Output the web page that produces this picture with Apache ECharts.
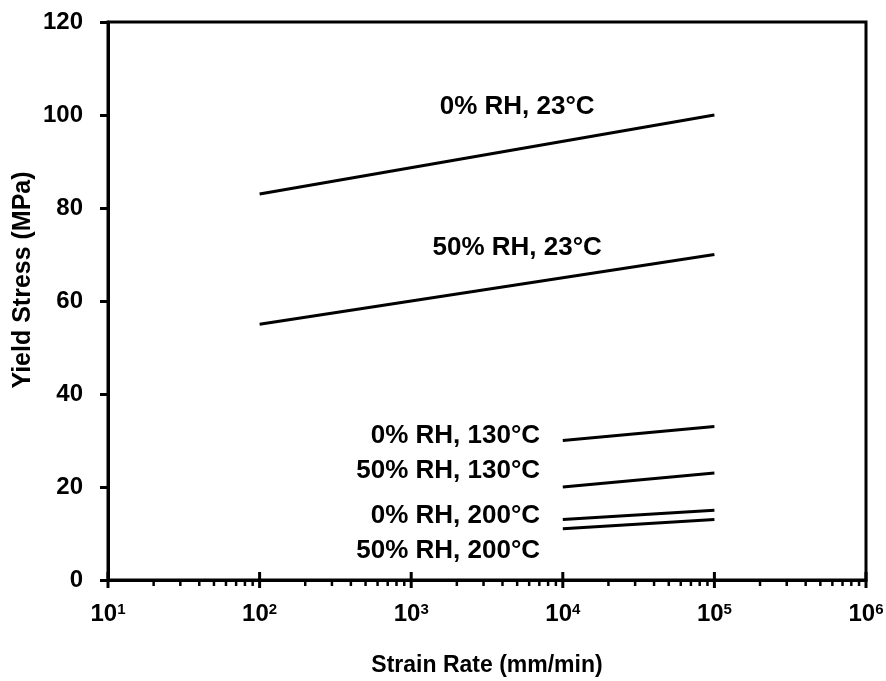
<!DOCTYPE html>
<html>
<head>
<meta charset="utf-8">
<script src="https://cdn.jsdelivr.net/npm/echarts@6/dist/echarts.min.js"></script>
<style>html,body{margin:0;padding:0;background:#fff;}#chart{width:886px;height:681px;}</style>
</head>
<body>
<div id="chart"></div>
<script>
// ---- data ----
const seriesNames = ['0% RH, 23°C', '50% RH, 23°C', '0% RH, 130°C', '50% RH, 130°C', '0% RH, 200°C', '50% RH, 200°C'];
const strainRateStart = [1e2, 1e2, 1e4, 1e4, 1e4, 1e4];
const strainRateEnd   = [1e5, 1e5, 1e5, 1e5, 1e5, 1e5];
const yieldStart = [83, 55, 30, 20, 13, 11];
const yieldEnd   = [100, 70, 33, 23, 15, 13];
const xTickExponents = [1, 2, 3, 4, 5, 6];
const yTicks = [0, 20, 40, 60, 80, 100, 120];

// annotation anchors (data space) for the curve labels
const labelAnchors = [
  {x: 5000, y: 101.8, align: 'center'},
  {x: 5000, y: 71.4, align: 'center'},
  {x: 7080, y: 31.1, align: 'right'},
  {x: 7080, y: 23.4, align: 'right'},
  {x: 7080, y: 13.9, align: 'right'},
  {x: 7080, y: 6.2, align: 'right'}
];

const FONT = '"Liberation Sans", Arial, sans-serif';
const majorTicks = xTickExponents.map(e => Math.pow(10, e));
const minorTicks = [];
for (let i = 0; i < xTickExponents.length - 1; i++) {
  for (let m = 2; m <= 9; m++) minorTicks.push(m * Math.pow(10, xTickExponents[i]));
}

const chart = echarts.init(document.getElementById('chart'), null, {renderer: 'canvas'});

const lineSeries = seriesNames.map((name, i) => ({
  name: name,
  type: 'line',
  data: [[strainRateStart[i], yieldStart[i]], [strainRateEnd[i], yieldEnd[i]]],
  showSymbol: false,
  symbol: 'none',
  lineStyle: {color: '#000', width: 3},
  silent: true,
  z: 3,
  markPoint: {
    symbol: 'circle',
    symbolSize: 0,
    silent: true,
    data: [{
      coord: [labelAnchors[i].x, labelAnchors[i].y],
      label: {
        show: true,
        formatter: name,
        position: 'inside',
        align: labelAnchors[i].align,
        verticalAlign: 'middle',
        color: '#000',
        fontFamily: FONT,
        fontWeight: 'bold',
        fontSize: 26
      }
    }]
  }
}));

const tickSeries = {
  type: 'custom',
  silent: true,
  clip: false,
  z: 5,
  data: majorTicks.map(v => [v, 1]).concat(minorTicks.map(v => [v, 0])),
  renderItem: function (params, api) {
    const p = api.coord([api.value(0), 0]);
    const major = api.value(1) === 1;
    return {
      type: 'line',
      shape: major ? {x1: p[0], y1: p[1] - 8, x2: p[0], y2: p[1] + 8}
                   : {x1: p[0], y1: p[1], x2: p[0], y2: p[1] + 6},
      style: {stroke: '#000', lineWidth: major ? 3 : 2.5}
    };
  }
};

chart.setOption({
  backgroundColor: '#fff',
  animation: false,
  grid: {left: 108, right: 20, top: 22, bottom: 101, show: true, borderColor: '#000', borderWidth: 3,
         containLabel: false, outerBoundsMode: 'none'},
  xAxis: {
    type: 'log',
    logBase: 10,
    min: 10,
    max: 1e6,
    name: 'Strain Rate (mm/min)',
    nameLocation: 'middle',
    nameGap: 74,
    nameMoveOverlap: false,
    nameTextStyle: {color: '#000', fontFamily: FONT, fontWeight: 'bold', fontSize: 23},
    axisLine: {lineStyle: {color: '#000', width: 3}},
    axisTick: {show: false},
    minorTick: {show: false},
    splitLine: {show: false},
    axisLabel: {
      margin: 22,
      formatter: function (v) {
        const e = Math.round(Math.log10(v));
        return '{b|10}{s|' + e + '}';
      },
      rich: {
        b: {color: '#000', fontFamily: FONT, fontWeight: 'bold', fontSize: 24, lineHeight: 24},
        s: {color: '#000', fontFamily: FONT, fontWeight: 'bold', fontSize: 15, lineHeight: 11, verticalAlign: 'top'}
      }
    }
  },
  yAxis: {
    type: 'value',
    min: 0,
    max: 120,
    interval: 20,
    name: 'Yield Stress (MPa)',
    nameLocation: 'middle',
    nameGap: 72,
    nameMoveOverlap: false,
    nameTextStyle: {color: '#000', fontFamily: FONT, fontWeight: 'bold', fontSize: 25, padding: [0, 0, 0, 42]},
    axisLine: {show: true, lineStyle: {color: '#000', width: 3}},
    axisTick: {show: true, length: 8, lineStyle: {color: '#000', width: 3}},
    splitLine: {show: false},
    axisLabel: {
      margin: 25,
      color: '#000', fontFamily: FONT, fontWeight: 'bold', fontSize: 24,
      formatter: function (v) { return yTicks.indexOf(v) >= 0 ? String(v) : ''; }
    }
  },
  series: lineSeries.concat([tickSeries])
});
</script>
</body>
</html>
